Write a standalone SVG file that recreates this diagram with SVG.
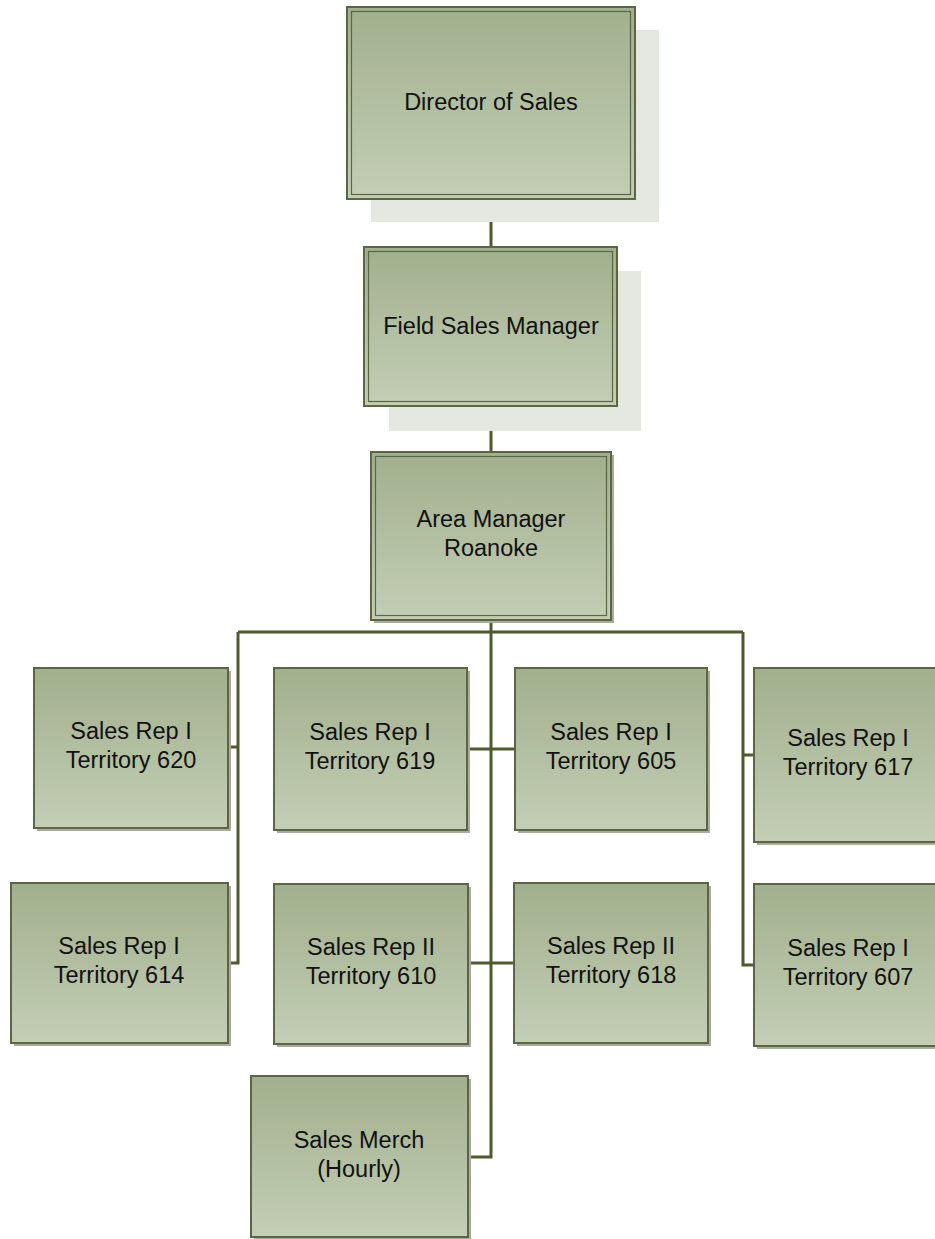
<svg xmlns="http://www.w3.org/2000/svg" width="935" height="1239" viewBox="0 0 935 1239">
<defs>
<linearGradient id="g" x1="0" y1="0" x2="0" y2="1">
<stop offset="0" stop-color="#a2af8c"/>
<stop offset="1" stop-color="#c3ceb5"/>
</linearGradient>
<style>
.box{fill:url(#g);stroke:#5b6743;stroke-width:2}
.inner{fill:none;stroke:#5b6743;stroke-width:1.2}
.bigsh{fill:#e5e8e0}
.sh{fill:#a8aba0}
.t{font-family:"Liberation Sans",Arial,sans-serif;font-size:23.5px;fill:#111;text-anchor:middle}
.c{fill:none;stroke:#4e5a2c;stroke-width:3}
</style>
</defs>
<rect width="935" height="1239" fill="#fff"/>
<g id="connectors">
<path class="c" d="M491 199V247M491 406V452M491 620V1157H468M238 632H743M238 632V963H228M228 747H238M467 749H515M468 963H514M743 632V965H754M743 755H754"/>
</g>
<g id="director">
<rect class="bigsh" x="371" y="30" width="288" height="192"/>
<rect class="box" x="347" y="7" width="288" height="192"/>
<rect class="inner" x="351.5" y="11.5" width="279" height="183"/>
<text class="t" x="491" y="110">Director of Sales</text>
</g>
<g id="field">
<rect class="bigsh" x="389" y="271" width="252" height="160"/>
<rect class="box" x="364" y="247" width="253" height="159"/>
<rect class="inner" x="368.5" y="251.5" width="244" height="150"/>
<text class="t" x="491" y="334">Field Sales Manager</text>
</g>
<g id="area">
<rect class="sh" x="374" y="455" width="240" height="168"/>
<rect class="box" x="371" y="452" width="240" height="168"/>
<rect class="inner" x="375.5" y="456.5" width="231" height="159"/>
<text class="t" x="491" y="527">Area Manager</text>
<text class="t" x="491" y="556">Roanoke</text>
</g>
<g id="t620">
<rect class="sh" x="37" y="671" width="194" height="160"/>
<rect class="box" x="34" y="668" width="194" height="160"/>
<text class="t" x="131" y="739">Sales Rep I</text>
<text class="t" x="131" y="768">Territory 620</text>
</g>
<g id="t614">
<rect class="sh" x="14" y="886" width="217" height="160"/>
<rect class="box" x="11" y="883" width="217" height="160"/>
<text class="t" x="119" y="954">Sales Rep I</text>
<text class="t" x="119" y="983">Territory 614</text>
</g>
<g id="t619">
<rect class="sh" x="277" y="671" width="193" height="162"/>
<rect class="box" x="274" y="668" width="193" height="162"/>
<text class="t" x="370" y="740">Sales Rep I</text>
<text class="t" x="370" y="769">Territory 619</text>
</g>
<g id="t610">
<rect class="sh" x="277" y="887" width="194" height="160"/>
<rect class="box" x="274" y="884" width="194" height="160"/>
<text class="t" x="371" y="955">Sales Rep II</text>
<text class="t" x="371" y="984">Territory 610</text>
</g>
<g id="merch">
<rect class="sh" x="254" y="1079" width="217" height="161"/>
<rect class="box" x="251" y="1076" width="217" height="161"/>
<text class="t" x="359" y="1148">Sales Merch</text>
<text class="t" x="359" y="1177">(Hourly)</text>
</g>
<g id="t605">
<rect class="sh" x="518" y="671" width="192" height="162"/>
<rect class="box" x="515" y="668" width="192" height="162"/>
<text class="t" x="611" y="740">Sales Rep I</text>
<text class="t" x="611" y="769">Territory 605</text>
</g>
<g id="t618">
<rect class="sh" x="517" y="886" width="194" height="160"/>
<rect class="box" x="514" y="883" width="194" height="160"/>
<text class="t" x="611" y="954">Sales Rep II</text>
<text class="t" x="611" y="983">Territory 618</text>
</g>
<g id="t617">
<rect class="sh" x="757" y="671" width="194" height="174"/>
<rect class="box" x="754" y="668" width="194" height="174"/>
<text class="t" x="848" y="746">Sales Rep I</text>
<text class="t" x="848" y="775">Territory 617</text>
</g>
<g id="t607">
<rect class="sh" x="757" y="887" width="194" height="162"/>
<rect class="box" x="754" y="884" width="194" height="162"/>
<text class="t" x="848" y="956">Sales Rep I</text>
<text class="t" x="848" y="985">Territory 607</text>
</g>
</svg>
